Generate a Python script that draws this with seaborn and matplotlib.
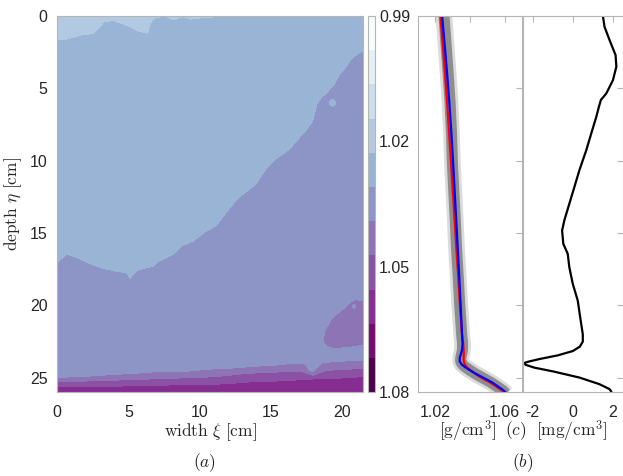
import numpy as np
import matplotlib
matplotlib.use("Agg")
import matplotlib.pyplot as plt
from matplotlib.colors import ListedColormap
import seaborn as sns

# ---------------- data ----------------
# panel (a): density contour levels and isopycnal depths
levels = np.linspace(0.99, 1.08, 12)
cbar_ticks = [0.99, 1.02, 1.05, 1.08]
xticks_a = [0, 5, 10, 15, 20]
yticks_a = [0, 5, 10, 15, 20, 25]

iso4_x = [0, 0.7, 1.85, 2.55, 3.0, 3.37, 3.95, 4.9, 5.6, 6.4, 6.5, 6.76, 7.46, 8.16, 8.86, 9.33, 10.0, 11.7, 12.5, 21.5]
iso4_d = [1.66, 1.66, 1.36, 1.27, 0.85, 0.44, 0.39, 0.74, 1.09, 1.27, 0.85, 0.28, 0.05, 0.35, 0.12, 0.28, 0.21, 0.07, -0.3, -0.5]

iso5_x = [0, 0.7, 1.4, 2.1, 3.0, 4.1, 4.8, 5.1, 5.5, 5.8, 6.8, 7.2, 8.2, 8.75, 9.6, 10.5, 11.2, 12.1,
          12.8, 14.0, 14.7, 15.4, 16.35, 17.5, 18.0, 18.3, 18.6, 19.0, 19.5, 19.9, 20.3, 20.8, 21.5]
iso5_d = [17.13, 16.55, 16.78, 17.13, 17.47, 17.71, 17.82, 18.28, 17.82, 17.59, 17.36, 17.02, 16.55, 15.98,
          15.63, 14.94, 14.59, 13.43, 12.62, 11.70, 10.66, 9.97, 9.28, 8.01, 7.32, 6.16, 5.70, 5.35, 4.78,
          4.09, 3.62, 2.93, 2.47]

iso6_x = [0, 1.85, 4.2, 6.5, 8.86, 11.2, 13.5, 15.9, 16.9, 17.4, 17.6, 17.98, 18.3, 18.6, 19.4, 21.5]
iso6_d = [25.09, 24.98, 24.86, 24.70, 24.63, 24.47, 24.33, 24.17, 24.05, 24.17, 24.52, 24.70, 24.40, 24.05, 23.98, 23.89]

iso7_x = [0, 5, 11, 13.5, 17.0, 17.6, 18.0, 18.4, 19.0, 21.5]
iso7_d = [25.35, 25.2, 25.0, 24.75, 24.6, 24.8, 24.9, 24.75, 24.55, 24.42]

iso8_x = [0, 5, 11, 13.5, 18.0, 21.5]
iso8_d = [25.68, 25.6, 25.5, 25.35, 25.15, 24.98]

# dense patch on the right (between its upper and lower edges)
blob_x = [18.75, 18.9, 19.4, 20.1, 20.7, 21.0, 21.5]
blob_top = [22.35, 21.75, 20.9, 20.36, 19.8, 19.68, 19.75]
blob_bot = [22.4, 22.7, 22.9, 22.86, 22.8, 22.75, 22.65]

# small lighter spots
spot_x = [19.35, 20.85]
spot_d = [6.0, 20.08]
spot_r = [0.3, 0.2]

# panel (b): density profiles [g/cm^3]
depth_b = [0, 2, 4, 6, 8, 10, 12, 14, 16, 18, 20, 22, 22.6, 23.0, 23.3, 23.6, 23.85, 24.05, 24.25,
           24.45, 24.7, 25.0, 25.3, 25.6, 25.9, 26.1]
rho_blue = [1.0239, 1.0254, 1.0268, 1.0281, 1.0292, 1.0302, 1.0311, 1.0320, 1.0329, 1.0338, 1.0346, 1.0354,
            1.0357, 1.0355, 1.0349, 1.0341, 1.0340, 1.0350, 1.0370, 1.0396, 1.0430, 1.0478, 1.0525,
            1.0562, 1.0597, 1.0612]
rho_red = [1.0229, 1.0243, 1.0256, 1.0268, 1.0279, 1.0290, 1.0300, 1.0311, 1.0321, 1.0332, 1.0342, 1.0354,
           1.0360, 1.0363, 1.0364, 1.0363, 1.0364, 1.0369, 1.0380, 1.0400, 1.0428, 1.0466, 1.0512,
           1.0551, 1.0588, 1.0603]
rho_gray = [1.0250, 1.0262, 1.0274, 1.0285, 1.0293, 1.0298, 1.0306, 1.0315, 1.0322, 1.0332, 1.0341, 1.0352,
            1.0357, 1.0357, 1.0353, 1.0347, 1.0346, 1.0354, 1.0372, 1.0396, 1.0428, 1.0473, 1.0518,
            1.0556, 1.0592, 1.0607]

# panel (c): density difference [mg/cm^3]
depth_c = [0, 0.74, 1.66, 2.7, 3.5, 4.43, 5.35, 5.8, 6.28, 6.97, 8.12, 9.28, 10.66, 11.82, 12.97, 14.13,
           14.82, 15.74, 16.43, 17.36, 18.5, 19.67, 20.82, 22.0, 22.5, 22.85, 23.15, 23.45, 23.7, 23.88,
           23.97, 24.1, 24.3, 24.55, 24.98, 25.44, 25.78, 25.95]
diff_c = [1.5, 1.58, 1.83, 2.13, 2.17, 2.0, 1.67, 1.4, 1.3, 1.17, 0.92, 0.67, 0.33, 0.08, -0.17, -0.42,
          -0.53, -0.47, -0.25, -0.17, 0.0, 0.25, 0.37, 0.5, 0.5, 0.35, 0.0, -0.75, -1.65, -2.2,
          -2.4, -2.35, -1.9, -1.0, 0.33, 1.33, 1.83, 1.92]

# ---------------- style ----------------
sns.set_style("white")
plt.rcParams["font.family"] = ["Liberation Sans", "DejaVu Sans"]
plt.rcParams["mathtext.fontset"] = "cm"
TICK_FS = 11.5
LAB_FS = 12.5
SPINE = "#b5b5b5"

W, H = 623, 476
fig = plt.figure(figsize=(W / 100, H / 100), dpi=100)


def box(l, t, r, b):
    return [l / W, 1 - b / H, (r - l) / W, (b - t) / H]


axa = fig.add_axes(box(57.3, 16, 363.3, 392.3))
cax = fig.add_axes(box(368, 16, 375, 392.3))
axb = fig.add_axes(box(418, 16, 522, 392.3))
axc = fig.add_axes(box(522.5, 16, 623, 392.3))

# ---------------- panel (a) ----------------
xg = np.linspace(0, 21.5, 431)
yg = np.linspace(0, 26, 521)
X, Y = np.meshgrid(xg, yg)
iso = [(iso4_x, iso4_d), (iso5_x, iso5_d), (iso6_x, iso6_d), (iso7_x, iso7_d), (iso8_x, iso8_d)]
iso_lv = list(levels[4:9])
F = np.empty_like(X)
for j, x in enumerate(xg):
    dep = [np.interp(x, ix, idp) for ix, idp in iso]
    F[:, j] = np.interp(yg, [-3.0] + dep + [29.0], [1.018] + iso_lv + [1.060])
top = np.interp(X, blob_x, blob_top)
bot = np.interp(X, blob_x, blob_bot)
bf = np.where(X >= blob_x[0], levels[6] + 0.004 * np.minimum(Y - top, bot - Y), -np.inf)
F = np.maximum(F, bf)
for hx, hy, hr, lv in zip(spot_x, spot_d, spot_r, [levels[5], levels[6]]):
    dist = np.hypot(X - hx, Y - hy)
    F = np.minimum(F, lv + 0.01 * (dist - hr))

cmap = ListedColormap(plt.cm.BuPu(np.linspace(0, 1, 11)))
cs = axa.contourf(xg, yg, F, levels=levels, cmap=cmap)
axa.set_xlim(0, 21.5)
axa.set_ylim(26, 0)
axa.set_xticks(xticks_a)
axa.set_yticks(yticks_a)
axa.tick_params(length=0, labelsize=TICK_FS, pad=7)
axa.tick_params(axis="x", pad=9)
for s in axa.spines.values():
    s.set_color(SPINE)
    s.set_linewidth(0.8)
axa.set_xlabel(r"$\mathrm{width}\ \xi\ [\mathrm{cm}]$", fontsize=LAB_FS, labelpad=1)
axa.set_ylabel(r"$\mathrm{depth}\ \eta\ [\mathrm{cm}]$", fontsize=LAB_FS, labelpad=4)

cb = fig.colorbar(cs, cax=cax, ticks=cbar_ticks)
cax.invert_yaxis()
cax.set_yticklabels([f"{t:.2f}" for t in cbar_ticks])
cax.tick_params(labelsize=TICK_FS, length=3, direction="in", color=SPINE, pad=3)
cb.outline.set_edgecolor(SPINE)
cb.outline.set_linewidth(0.8)

# ---------------- panel (b) ----------------
sns.lineplot(x=rho_gray, y=depth_b, orient="y", sort=False, estimator=None, ax=axb,
             color="#b8b8b8", lw=12, alpha=0.5, solid_capstyle="butt")
sns.lineplot(x=rho_gray, y=depth_b, orient="y", sort=False, estimator=None, ax=axb,
             color="#6e6e6e", lw=8, alpha=0.7, solid_capstyle="butt")
sns.lineplot(x=rho_red, y=depth_b, orient="y", sort=False, estimator=None, ax=axb,
             color="red", lw=1.6)
sns.lineplot(x=rho_blue, y=depth_b, orient="y", sort=False, estimator=None, ax=axb,
             color="blue", lw=1.6)
axb.set_xlim(1.01, 1.07)
axb.set_ylim(26, 0)
axb.set_xticks([1.02, 1.04, 1.06])
axb.set_xticklabels(["1.02", "", "1.06"])
axb.set_yticks([5, 10, 15, 20, 25])
axb.set_yticklabels([])
axb.tick_params(direction="in", top=True, right=True, length=4, color=SPINE,
                labelsize=TICK_FS, pad=9)
for s in axb.spines.values():
    s.set_color(SPINE)
    s.set_linewidth(0.8)

# ---------------- panel (c) ----------------
sns.lineplot(x=diff_c, y=depth_c, orient="y", sort=False, estimator=None, ax=axc,
             color="black", lw=1.6)
axc.set_xlim(-2.5, 2.5)
axc.set_ylim(26, 0)
axc.set_xticks([-2, 0, 2])
axc.set_xticklabels(["-2", "0", "2"])
axc.set_yticks([5, 10, 15, 20, 25])
axc.set_yticklabels([])
axc.tick_params(direction="in", top=True, right=True, length=4, color=SPINE,
                labelsize=TICK_FS, pad=9)
for s in axc.spines.values():
    s.set_color(SPINE)
    s.set_linewidth(0.8)

for a in (axb, axc):
    a.set_xlabel("")
    a.set_ylabel("")

# ---------------- labels ----------------
fig.text(468 / W, 1 - 431 / H, r"$[\mathrm{g/cm}^3]$", fontsize=LAB_FS, ha="center", va="center")
fig.text(516 / W, 1 - 431 / H, r"$(c)$", fontsize=LAB_FS, ha="center", va="center")
fig.text(572 / W, 1 - 431 / H, r"$[\mathrm{mg/cm}^3]$", fontsize=LAB_FS, ha="center", va="center")
fig.text(205 / W, 1 - 463 / H, r"$(a)$", fontsize=LAB_FS, ha="center", va="center")
fig.text(523 / W, 1 - 463 / H, r"$(b)$", fontsize=LAB_FS, ha="center", va="center")

fig.savefig("out.png", dpi=100)
